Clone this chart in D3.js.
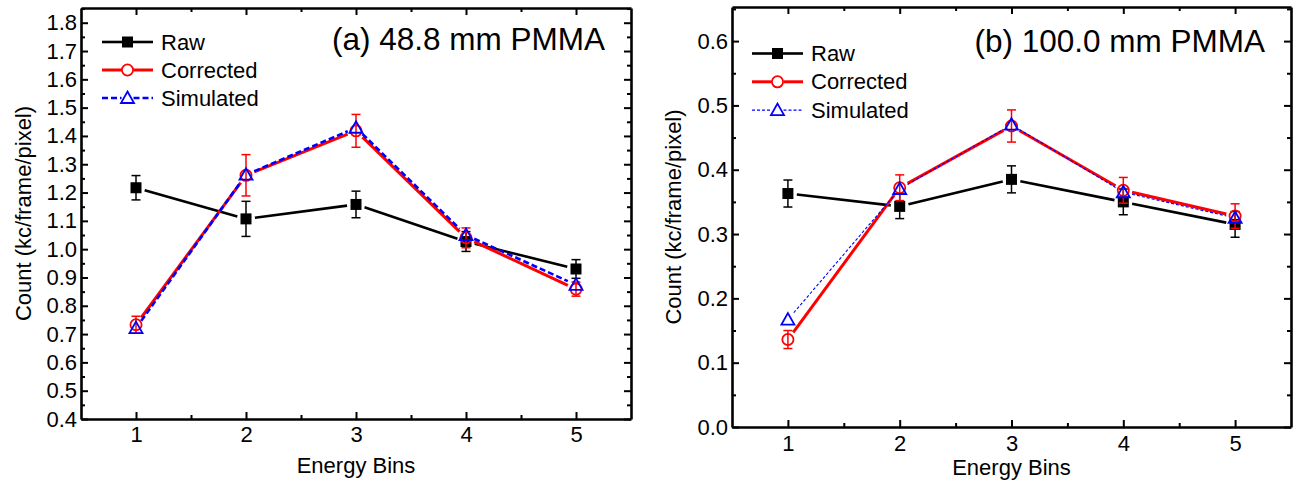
<!DOCTYPE html>
<html>
<head>
<meta charset="utf-8">
<script src="https://d3js.org/d3.v7.min.js"></script>
<style>
  body { margin: 0; background: #fff; }
  text { font-family: "Liberation Sans", Arial, sans-serif; fill: #000; }
</style>
</head>
<body>
<svg id="chart" width="1297" height="492"></svg>
<script>
// ---------- data ----------
const bins = [1, 2, 3, 4, 5];
const seriesNames = ["Raw", "Corrected", "Simulated"];

// panel (a) 48.8 mm PMMA
const rawA = [1.217, 1.107, 1.158, 1.027, 0.930];
const rawErrA = [0.043, 0.062, 0.047, 0.035, 0.033];
const corrA = [0.733, 1.261, 1.418, 1.040, 0.859];
const corrErrA = [0.030, 0.073, 0.058, 0.035, 0.025];
const simA = [0.721, 1.263, 1.429, 1.050, 0.874];
const yTicksA = [0.4, 0.5, 0.6, 0.7, 0.8, 0.9, 1.0, 1.1, 1.2, 1.3, 1.4, 1.5, 1.6, 1.7, 1.8];

// panel (b) 100.0 mm PMMA
const rawB = [0.363, 0.343, 0.385, 0.350, 0.315];
const rawErrB = [0.021, 0.019, 0.021, 0.020, 0.020];
const corrB = [0.136, 0.372, 0.468, 0.368, 0.328];
const corrErrB = [0.014, 0.020, 0.025, 0.020, 0.019];
const simB = [0.167, 0.370, 0.470, 0.365, 0.325];
const yTicksB = [0.0, 0.1, 0.2, 0.3, 0.4, 0.5, 0.6];

const svg = d3.select("#chart");

function drawPanel(cfg) {
  const g = svg.append("g");
  const x = d3.scaleLinear().domain([0.5, 5.5]).range([cfg.left, cfg.right]);
  const y = d3.scaleLinear().domain(cfg.yDomain).range([cfg.bottom, cfg.top]);

  const xMinor = d3.range(1.5, 5.0, 1);
  const yStep = cfg.yTicks[1] - cfg.yTicks[0];
  const yMinor = cfg.yTicks.map(v => +(v + yStep / 2).toFixed(3)).filter(v => v < cfg.yDomain[1]);

  const axStyle = sel => {
    sel.attr("font-size", cfg.tickFont).attr("font-family", '"Liberation Sans", Arial, sans-serif');
    sel.selectAll(".domain").attr("stroke", "#000").attr("stroke-width", 2.6);
    sel.selectAll(".tick line").attr("stroke", "#000").attr("stroke-width", 2);
    sel.selectAll("text").style("font-size", cfg.tickFont + "px").attr("fill", "#000");
  };

  // bottom
  g.append("g").attr("transform", `translate(0,${cfg.bottom})`)
    .call(d3.axisBottom(x).tickValues(bins).tickFormat(d3.format("d")).tickSizeInner(-7).tickSizeOuter(0).tickPadding(cfg.xPad))
    .call(axStyle);
  g.append("g").attr("transform", `translate(0,${cfg.bottom})`)
    .call(d3.axisBottom(x).tickValues(xMinor).tickFormat("").tickSizeInner(-4).tickSizeOuter(0))
    .call(axStyle).select(".domain").remove();
  // top
  g.append("g").attr("transform", `translate(0,${cfg.top})`)
    .call(d3.axisTop(x).tickValues(bins).tickFormat("").tickSizeInner(-7).tickSizeOuter(0))
    .call(axStyle);
  g.append("g").attr("transform", `translate(0,${cfg.top})`)
    .call(d3.axisTop(x).tickValues(xMinor).tickFormat("").tickSizeInner(-4).tickSizeOuter(0))
    .call(axStyle).select(".domain").remove();
  // left
  g.append("g").attr("transform", `translate(${cfg.left},0)`)
    .call(d3.axisLeft(y).tickValues(cfg.yTicks).tickFormat(d3.format(".1f")).tickSizeInner(-7).tickSizeOuter(0).tickPadding(4))
    .call(axStyle);
  g.append("g").attr("transform", `translate(${cfg.left},0)`)
    .call(d3.axisLeft(y).tickValues(yMinor).tickFormat("").tickSizeInner(-4).tickSizeOuter(0))
    .call(axStyle).select(".domain").remove();
  // right
  g.append("g").attr("transform", `translate(${cfg.right},0)`)
    .call(d3.axisRight(y).tickValues(cfg.yTicks).tickFormat("").tickSizeInner(-7).tickSizeOuter(0))
    .call(axStyle);
  g.append("g").attr("transform", `translate(${cfg.right},0)`)
    .call(d3.axisRight(y).tickValues(yMinor).tickFormat("").tickSizeInner(-4).tickSizeOuter(0))
    .call(axStyle).select(".domain").remove();

  // axis titles
  g.append("text").attr("x", (cfg.left + cfg.right) / 2).attr("y", cfg.xTitleY)
    .attr("text-anchor", "middle").style("font-size", "22px").text("Energy Bins");
  g.append("text").attr("transform", `translate(${cfg.yTitleX},${(cfg.top + cfg.bottom) / 2}) rotate(-90)`)
    .attr("text-anchor", "middle").style("font-size", "22px").text("Count (kc/frame/pixel)");

  // panel label
  g.append("text").attr("x", cfg.right - 26).attr("y", cfg.labelY)
    .attr("text-anchor", "end").style("font-size", "31.5px").text(cfg.label);

  const series = [
    { name: seriesNames[0], vals: cfg.raw, err: cfg.rawErr, color: "#000", width: 2.6, dash: null, marker: "square" },
    { name: seriesNames[1], vals: cfg.corr, err: cfg.corrErr, color: "#ff0000", width: 3, dash: null, marker: "circle" },
    { name: seriesNames[2], vals: cfg.sim, err: null, color: "#0000ff", width: cfg.simWidth, dash: cfg.simDash, marker: "triangle" }
  ];

  const gap = 9;
  function drawMarker(sel, s, cx, cy) {
    if (s.marker === "square") {
      sel.append("rect").attr("x", cx - 5.5).attr("y", cy - 5.5).attr("width", 11).attr("height", 11).attr("fill", "#000");
    } else if (s.marker === "circle") {
      sel.append("circle").attr("cx", cx).attr("cy", cy).attr("r", 5.6)
        .attr("fill", "none").attr("stroke", s.color).attr("stroke-width", 1.8);
    } else {
      const h = 6.5;
      sel.append("path").attr("d", `M${cx},${cy - h} L${cx + 6.5},${cy + 5} L${cx - 6.5},${cy + 5} Z`)
        .attr("fill", "none").attr("stroke", s.color).attr("stroke-width", 1.8);
    }
  }

  series.forEach(s => {
    const sg = g.append("g");
    for (let i = 0; i < bins.length - 1; i++) {
      const x0 = x(bins[i]), y0 = y(s.vals[i]), x1 = x(bins[i + 1]), y1 = y(s.vals[i + 1]);
      const dx = x1 - x0, dy = y1 - y0, L = Math.hypot(dx, dy);
      const ux = dx / L, uy = dy / L;
      const ln = sg.append("line")
        .attr("x1", x0 + ux * gap).attr("y1", y0 + uy * gap)
        .attr("x2", x1 - ux * gap).attr("y2", y1 - uy * gap)
        .attr("stroke", s.color).attr("stroke-width", s.width);
      if (s.dash) ln.attr("stroke-dasharray", s.dash);
    }
    if (s.err) {
      bins.forEach((b, i) => {
        const cx = x(b), yt = y(s.vals[i] + s.err[i]), yb = y(s.vals[i] - s.err[i]);
        sg.append("line").attr("x1", cx).attr("x2", cx).attr("y1", yt).attr("y2", yb).attr("stroke", s.color).attr("stroke-width", 1.5);
        sg.append("line").attr("x1", cx - 4.5).attr("x2", cx + 4.5).attr("y1", yt).attr("y2", yt).attr("stroke", s.color).attr("stroke-width", 1.5);
        sg.append("line").attr("x1", cx - 4.5).attr("x2", cx + 4.5).attr("y1", yb).attr("y2", yb).attr("stroke", s.color).attr("stroke-width", 1.5);
      });
    }
    bins.forEach((b, i) => drawMarker(sg, s, x(b), y(s.vals[i])));
  });

  // legend
  series.forEach((s, i) => {
    const ly = cfg.legendY + i * cfg.legendStep;
    const lg = g.append("g");
    const mx = cfg.legendX + 25.5;
    const mgap = s.marker === "square" ? 0 : 6;
    [[cfg.legendX, mx - mgap], [mx + mgap, cfg.legendX + 51]].forEach(([a, bEnd]) => {
      const ln = lg.append("line").attr("x1", a).attr("x2", bEnd).attr("y1", ly).attr("y2", ly)
        .attr("stroke", s.color).attr("stroke-width", s.width);
      if (s.dash) ln.attr("stroke-dasharray", s.dash);
    });
    drawMarker(lg, s, mx, ly);
    lg.append("text").attr("x", cfg.legendX + 59).attr("y", ly + 7.5)
      .style("font-size", "22px").text(s.name);
  });
}

drawPanel({
  left: 81, right: 631, top: 8, bottom: 419,
  yDomain: [0.4, 1.852], yTicks: yTicksA,
  raw: rawA, rawErr: rawErrA, corr: corrA, corrErr: corrErrA, sim: simA,
  simDash: "6,3", simWidth: 2.6,
  label: "(a) 48.8 mm PMMA", labelY: 50,
  legendX: 102, legendY: 42, legendStep: 28,
  tickFont: 22, xPad: 7, xTitleY: 473, yTitleX: 31
});

drawPanel({
  left: 732, right: 1291, top: 7, bottom: 427,
  yDomain: [0, 0.653], yTicks: yTicksB,
  raw: rawB, rawErr: rawErrB, corr: corrB, corrErr: corrErrB, sim: simB,
  simDash: "3,2", simWidth: 1.1,
  label: "(b) 100.0 mm PMMA", labelY: 52,
  legendX: 752, legendY: 53.5, legendStep: 28.3,
  tickFont: 22, xPad: 8, xTitleY: 475, yTitleX: 681
});
</script>
</body>
</html>
